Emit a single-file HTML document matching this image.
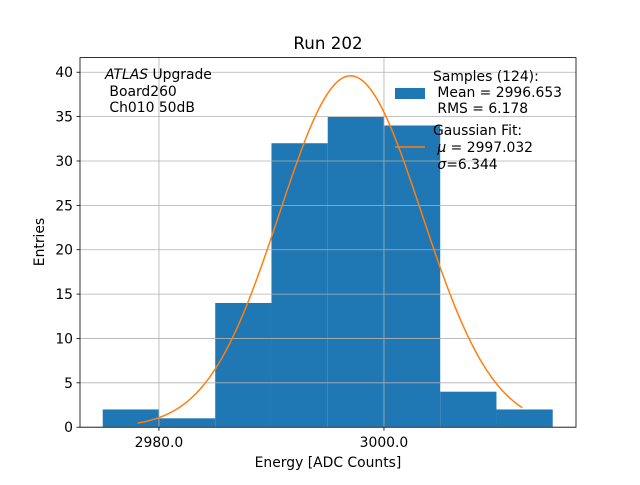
<!DOCTYPE html>
<html><head><meta charset="utf-8"><style>
body{margin:0;background:#fff;}
svg text{font-family:"DejaVu Sans","Liberation Sans",sans-serif;fill:#000;white-space:pre;}
</style></head><body>
<svg id="c" width="640" height="480" xmlns="http://www.w3.org/2000/svg">
<rect width="640" height="480" fill="#fff"/>
<g id="bars"></g>
<g id="grid"></g>
<path id="fit" fill="none" stroke="#ff7f0e" stroke-width="1.5"/>
<rect x="80" y="57.6" width="496" height="369.6" fill="none" stroke="#000" stroke-width="0.8"/>
<g id="ticks"></g>
<text x="328" y="49" font-size="16.7" text-anchor="middle">Run 202</text>
<text x="328" y="467" font-size="13.9" text-anchor="middle">Energy [ADC Counts]</text>
<text transform="translate(44,242) rotate(-90)" font-size="13.9" text-anchor="middle">Entries</text>
<g font-size="13.9">
<text x="105" y="79"><tspan font-style="italic">ATLAS</tspan> Upgrade</text>
<text x="105" y="96"> Board260</text>
<text x="105" y="112"> Ch010 50dB</text>
</g>
<g font-size="13.9">
<rect x="395" y="88" width="30" height="11" fill="#1f77b4"/>
<text x="433" y="81">Samples (124):</text>
<text x="433" y="97"> Mean = 2996.653</text>
<text x="433" y="113"> RMS = 6.178</text>
<line x1="395" x2="425" y1="147" y2="147" stroke="#ff7f0e" stroke-width="1.5"/>
<text x="433" y="135">Gaussian Fit:</text>
<text x="433" y="152"> <tspan font-style="italic">μ</tspan> = 2997.032</text>
<text x="433" y="169"> <tspan font-style="italic">σ</tspan>=6.344</text>
</g>
</svg>
<script>
const binEdges=[2975,2980,2985,2990,2995,3000,3005,3010,3015];
const counts=[2,1,14,32,35,34,4,2];
const xTicks=[2980,3000];
const xTickLabels=["2980.0","3000.0"];
const yTicks=[0,5,10,15,20,25,30,35,40];
const fitMu=[2997.032];
const fitSigma=[6.344];
const fitAmp=[39.6];
const fitRange=[2978.1,3012.3];
const NS='http://www.w3.org/2000/svg';
const X0=80,X1=576,Y0=427.2,Y1=57.6,xmin=2972.98,xmax=3017.07,ymin=0,ymax=41.65;
const sx=v=>X0+(v-xmin)/(xmax-xmin)*(X1-X0);
const sy=v=>Y0-(v-ymin)/(ymax-ymin)*(Y0-Y1);
function mk(t,a,p){const e=document.createElementNS(NS,t);for(const k in a)e.setAttribute(k,a[k]);p.appendChild(e);return e;}
const bars=document.getElementById('bars');
counts.forEach((c,i)=>{const r=mk('rect',{x:sx(binEdges[i]),y:sy(c),width:sx(binEdges[i+1])-sx(binEdges[i]),height:sy(0)-sy(c),fill:'#1f77b4'},bars);

});
const grid=document.getElementById('grid'),ticks=document.getElementById('ticks');
xTicks.forEach((t,i)=>{const x=sx(t);
const g=mk('line',{x1:x,x2:x,y1:Y1,y2:Y0,stroke:'#b0b0b0','stroke-width':0.8},grid);


mk('line',{x1:x,x2:x,y1:Y0,y2:Y0+3.5,stroke:'#000','stroke-width':0.8},ticks);
const tx=mk('text',{x:x,y:Y0+20,'font-size':13.9,'text-anchor':'middle'},ticks);tx.textContent=xTickLabels[i];

});
yTicks.forEach(t=>{const y=sy(t);
const g=mk('line',{x1:X0,x2:X1,y1:y,y2:y,stroke:'#b0b0b0','stroke-width':0.8},grid);


mk('line',{x1:X0-3.5,x2:X0,y1:y,y2:y,stroke:'#000','stroke-width':0.8},ticks);
const tx=mk('text',{x:X0-7,y:y+5,'font-size':13.9,'text-anchor':'end'},ticks);tx.textContent=t;

});
let d='';const n=200;
for(let i=0;i<=n;i++){const v=fitRange[0]+(fitRange[1]-fitRange[0])*i/n;
const yv=fitAmp[0]*Math.exp(-0.5*Math.pow((v-fitMu[0])/fitSigma[0],2));
d+=(i?'L':'M')+sx(v).toFixed(2)+','+sy(yv).toFixed(2);}
document.getElementById('fit').setAttribute('d',d);
</script>
</body></html>
